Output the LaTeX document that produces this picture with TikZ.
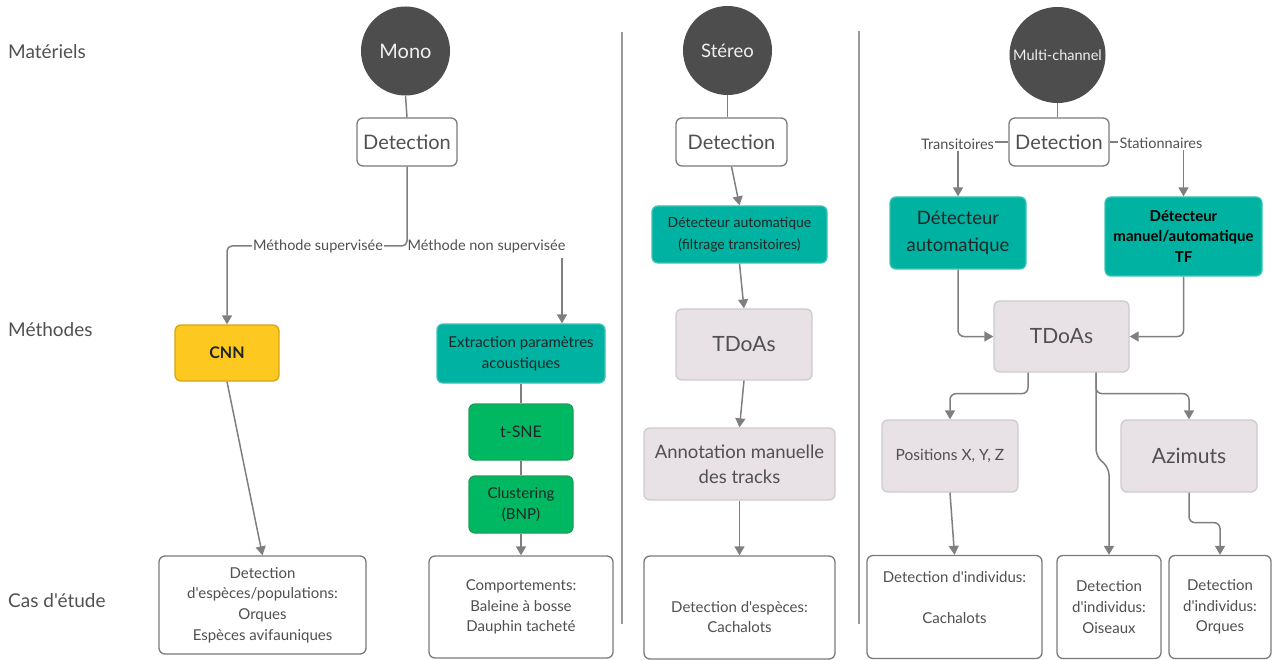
\documentclass[tikz,border=0pt]{standalone}
\usepackage{fontspec}
\setmainfont{Lato}[Ligatures=TeXOff]
\usetikzlibrary{arrows.meta}
\definecolor{circc}{HTML}{4D4D4D}
\definecolor{circt}{HTML}{F0F0F0}
\definecolor{lgray}{HTML}{7F7F7F}
\definecolor{sepc}{HTML}{9A9A9A}
\definecolor{boxgray}{HTML}{7A7A7A}
\definecolor{txt}{HTML}{505050}
\definecolor{dark}{HTML}{1E2626}
\definecolor{pinkf}{HTML}{E8E1E5}
\definecolor{pinkb}{HTML}{CFCACD}
\definecolor{tealf}{HTML}{00B2A1}
\definecolor{tealb}{HTML}{3CC3B6}
\definecolor{greenf}{HTML}{00B862}
\definecolor{greenb}{HTML}{1E9E55}
\definecolor{yellf}{HTML}{FDC820}
\definecolor{yellb}{HTML}{D9A514}
\newcommand\fsz[2]{\fontsize{#1}{#2}\selectfont}
\begin{document}
\begin{tikzpicture}[x=1pt,y=-1pt,
  basebox/.style={rounded corners=6pt, line width=1.3pt, align=center, inner sep=2pt},
  wbox/.style={basebox, draw=boxgray, fill=white, text=txt},
  pbox/.style={basebox, draw=pinkb, fill=pinkf, text=txt},
  tbox/.style={basebox, draw=tealb, fill=tealf, text=dark},
  gbox/.style={basebox, draw=greenb, fill=greenf, text=dark},
  ybox/.style={basebox, draw=yellb, fill=yellf, text=dark},
  circ/.style={circle, fill=circc, text=circt, inner sep=0pt},
  conn/.style={draw=lgray, line width=1.5pt},
  arr/.style={conn, -{Triangle[width=10pt,length=9pt]}},
  lbl/.style={text=txt, inner sep=1pt, font=\fsz{14.5}{16}},
  side/.style={text=txt, anchor=west, inner sep=0pt, font=\fsz{19}{22}},
  sepline/.style={draw=sepc, line width=1.5pt}
]
\useasboundingbox (0,0) rectangle (1274,660);

% side labels
\node[side] (smat) at (8,52) {Matériels};
\node[side] (smet) at (8,330) {Méthodes};
\node[side] (scas) at (8,601) {Cas d'étude};

% separators
\draw[sepline] (622,32) -- (622,624);
\draw[sepline] (859,31) -- (859,624);

% ---------------- Mono ----------------
\node[circ, minimum size=89pt, font=\fsz{20}{24}] (mcirc) at (405.5,51) {Mono};
\node[wbox, minimum width=100pt, minimum height=48pt, font=\fsz{20}{24}] (mdet) at (407,142) {Detection};
\node[ybox, minimum width=104pt, minimum height=56pt, font=\bfseries\fsz{16}{20}] (cnn) at (227,353) {CNN};
\node[tbox, minimum width=168pt, minimum height=59pt, font=\fsz{15}{21}] (ext) at (521,353.5) {Extraction paramètres\\acoustiques};
\node[gbox, minimum width=104pt, minimum height=56pt, font=\fsz{16}{20}] (tsne) at (521,432) {t-SNE};
\node[gbox, minimum width=104pt, minimum height=57pt, font=\fsz{15}{20.5}] (clus) at (521,504.5) {Clustering\\(BNP)};
\node[wbox, minimum width=207pt, minimum height=98pt, font=\fsz{15}{20.7}] (desp) at (262.5,605) {Detection\\d'espèces/populations:\\Orques\\Espèces avifauniques};
\node[wbox, minimum width=184pt, minimum height=102pt, font=\fsz{15}{20.7}] (comp) at (521,607) {Comportements:\\Baleine à bosse\\Dauphin tacheté};

\node[lbl] (lsup) at (318,246) {Méthode supervisée};
\node[lbl] (lnon) at (486.5,246) {Méthode non supervisée};
\coordinate (nsx) at (562,258);

\draw[conn] (mcirc.south) -- (mdet.north);
\draw[conn, rounded corners=5pt] (mdet.south) -- (mdet.south |- lsup.east) -- (lsup.east);
\draw[arr, rounded corners=5pt] (lsup.west) -| (cnn.north);
\draw[arr] (nsx) -- (nsx |- ext.north);
\draw[arr] (cnn.south) -- (desp.north);
\draw[conn] (ext.south) -- (tsne.north);
\draw[conn] (tsne.south) -- (clus.north);
\draw[arr] (clus.south) -- (comp.north);

% ---------------- Stereo ----------------
\node[circ, minimum size=89pt, font=\fsz{18.5}{22}] (scirc) at (727.5,50.5) {Stéreo};
\node[wbox, minimum width=111pt, minimum height=48pt, font=\fsz{20}{24}] (sdet) at (731.5,142) {Detection};
\node[tbox, minimum width=175pt, minimum height=57pt, font=\fsz{14}{21.5}] (steal) at (739.5,234.5) {Détecteur automatique\\(filtrage transitoires)};
\node[pbox, minimum width=136pt, minimum height=71pt, font=\fsz{21}{25}] (stdoa) at (744,344.5) {TDoAs};
\node[pbox, minimum width=191pt, minimum height=72pt, font=\fsz{18.5}{25}] (sann) at (739.5,464) {Annotation manuelle\\des tracks};
\node[wbox, minimum width=191pt, minimum height=103pt] (scasbox) at (739.5,607.5) {};
\node[text=txt, align=center, font=\fsz{15}{20.7}] (scastxt) at (739.5,617) {Detection d'espèces:\\Cachalots};

\draw[conn] (scirc.south) -- (scirc.south |- sdet.north);
\draw[arr] (sdet.south) -- (steal.north);
\draw[arr] (steal.south) -- (stdoa.north);
\draw[arr] (stdoa.south) -- (sann.north);
\draw[arr] (sann.south) -- (scasbox.north);

% ---------------- Multi-channel ----------------
\node[circ, minimum size=96pt, font=\fsz{14.5}{18}] (ucirc) at (1057.5,55) {Multi-channel};
\node[wbox, minimum width=100pt, minimum height=48pt, font=\fsz{20}{24}] (udet) at (1059,142) {Detection};
\node[tbox, minimum width=136pt, minimum height=72pt, font=\fsz{18.5}{26.5}] (dauto) at (958,233) {Détecteur\\automatique};
\node[tbox, minimum width=157pt, minimum height=79pt, font=\bfseries\fsz{15}{20.5}, text=black] (dtf) at (1183.5,236.5) {Détecteur\\manuel/automatique\\TF};
\node[pbox, minimum width=135pt, minimum height=71pt, font=\fsz{21}{25}] (mtd) at (1061.5,336.5) {TDoAs};
\node[pbox, minimum width=136pt, minimum height=72pt, font=\fsz{15.5}{20}] (pos) at (950,456) {Positions X, Y, Z};
\node[pbox, minimum width=136pt, minimum height=72pt, font=\fsz{21}{25}] (az) at (1189,456) {Azimuts};
\node[wbox, minimum width=175pt, minimum height=103pt] (cach2) at (954.5,607) {};
\node[text=txt, align=center, font=\fsz{15}{20.5}] (cach2txt) at (954.5,597.5) {Detection d'individus:\\[20.5pt]Cachalots};
\node[wbox, minimum width=104pt, minimum height=103pt, font=\fsz{15}{20.7}] (ois) at (1109,607) {Detection\\d'individus:\\Oiseaux};
\node[wbox, minimum width=102pt, minimum height=103pt, font=\fsz{15}{20.7}] (orq) at (1220,607) {Detection\\d'individus:\\Orques};

\node[lbl] (ltr) at (957.5,144) {Transitoires};
\node[lbl] (lst) at (1161,143) {Stationnaires};

\draw[conn] (ucirc.south) -- (ucirc.south |- udet.north);
\draw[conn] (udet.west) -- (ltr.east |- udet.west);
\draw[conn] (udet.east) -- (lst.west |- udet.east);
\draw[arr] (ltr.south -| dauto.north) -- (dauto.north);
\draw[arr] (lst.south -| dtf.north) -- (dtf.north);
\draw[arr, rounded corners=6pt] (dauto.south) |- (mtd.west);
\draw[arr, rounded corners=6pt] (dtf.south) |- (mtd.east);
\draw[arr, rounded corners=6pt] ([xshift=-33.5pt]mtd.south) -- ++(0,21) -| (pos.north);
\draw[arr, rounded corners=6pt] ([xshift=34.5pt]mtd.south) -- ++(0,21) -| (az.north);
\draw[arr, rounded corners=7pt] ([xshift=34.5pt]mtd.south) -- ([xshift=34.5pt]mtd.south |- 0,456) -- (ois.north |- 0,468) -- (ois.north);
\draw[arr] (pos.south) -- (cach2.north);
\draw[arr, rounded corners=6pt] (az.south) -- ++(0,30) -| (orq.north);

\end{tikzpicture}
\end{document}
